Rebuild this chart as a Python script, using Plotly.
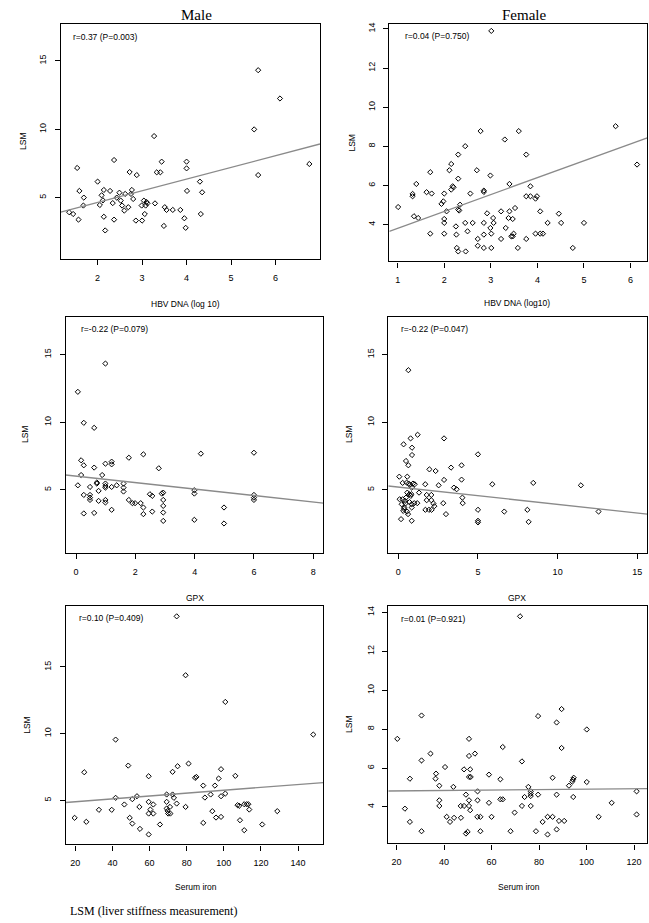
import plotly.graph_objects as go

# ---------------- data ----------------
male_hbv_x = [1.36,1.45,1.54,1.59,1.57,1.69,1.68,2.0,2.05,2.09,2.12,2.14,2.14,2.17,2.28,2.34,2.37,2.37,2.43,2.49,2.52,2.55,2.6,2.62,2.69,2.72,2.75,2.77,2.8,2.86,2.88,2.99,3.0,3.04,3.06,3.1,3.08,3.12,3.27,3.29,3.33,3.41,3.44,3.51,3.49,3.55,3.69,3.86,3.95,3.98,4.0,4.0,4.01,4.3,4.32,4.35,5.52,5.61,5.61,6.1,6.76]
male_hbv_y = [3.93,3.8,7.17,5.49,3.39,5.0,4.42,6.17,4.46,5.17,4.8,5.56,3.6,2.6,5.49,4.6,7.75,3.39,5.0,5.36,4.78,4.42,4.05,5.27,4.3,6.87,5.27,5.56,4.9,3.32,6.65,4.42,3.32,4.78,3.8,4.68,4.42,4.58,9.5,4.58,6.85,6.85,7.63,4.3,2.93,4.1,4.1,4.1,3.49,2.79,7.63,7.14,5.49,6.17,3.8,5.39,9.99,14.32,6.65,12.25,7.46]

female_hbv_x = [1.01,1.32,1.32,1.35,1.40,1.44,1.70,1.70,1.73,1.62,1.94,1.98,2.0,2.0,2.0,2.0,2.05,2.11,2.15,2.15,2.18,2.2,2.25,2.26,2.27,2.3,2.3,2.3,2.3,2.32,2.34,2.45,2.45,2.46,2.5,2.56,2.61,2.7,2.72,2.72,2.78,2.85,2.85,2.85,2.85,2.85,2.92,2.99,2.99,3.01,3.01,3.01,3.05,3.06,3.22,3.22,3.3,3.32,3.38,3.4,3.4,3.44,3.47,3.47,3.49,3.52,3.58,3.6,3.76,3.76,3.76,3.85,3.85,3.96,3.99,3.96,4.06,4.06,4.12,4.22,4.46,4.51,4.76,5.0,5.68,6.14]
female_hbv_y = [4.90,5.57,5.45,4.43,6.08,4.34,3.54,6.68,5.59,5.66,5.06,5.19,5.59,4.29,4.09,3.54,4.68,6.78,7.1,5.79,5.96,5.91,3.91,3.49,2.81,2.63,7.58,6.35,4.77,4.72,5.02,8.01,4.09,2.63,3.66,5.59,4.09,6.78,3.27,2.92,8.78,5.74,5.67,4.09,3.49,2.81,4.58,3.83,6.51,13.9,3.54,2.81,4.34,4.09,3.27,4.68,8.35,3.83,4.34,4.68,6.08,3.4,3.4,4.29,3.54,4.85,2.81,8.78,3.27,7.58,5.45,5.96,5.45,5.33,5.45,3.54,4.68,3.54,3.54,4.09,4.56,4.09,2.81,4.09,9.03,7.07]

male_gpx_x = [0.06,0.06,0.17,0.17,0.26,0.26,0.26,0.26,0.47,0.47,0.47,0.47,0.61,0.61,0.61,0.7,0.7,0.76,0.76,0.88,0.99,0.99,0.99,0.99,0.99,0.99,0.99,1.2,1.2,1.2,1.2,1.37,1.6,1.6,1.6,1.78,1.78,1.9,1.99,2.18,2.27,2.27,2.27,2.49,2.57,2.57,2.79,2.89,2.94,2.94,2.94,2.94,2.94,3.99,3.99,3.99,4.21,4.99,4.99,6.0,6.0,6.0,6.0]
male_gpx_y = [12.25,5.34,6.1,7.19,9.96,6.82,4.63,3.26,5.22,4.63,4.43,4.26,9.59,6.65,3.3,5.47,5.55,4.93,4.19,6.1,14.34,6.94,5.47,5.29,5.17,4.26,4.07,7.09,6.89,5.22,3.53,5.34,5.47,5.17,4.88,7.38,4.26,4.02,4.02,4.02,3.7,3.21,7.63,4.68,4.56,3.4,6.6,4.73,4.8,4.26,3.82,3.33,2.71,4.98,4.73,2.79,7.68,3.7,2.52,7.75,4.63,4.43,4.26]

female_gpx_x = [0.63,0.33,0.77,1.21,0.86,0.86,0.48,0.63,0.06,0.56,0.27,2.87,1.95,2.34,3.31,3.97,2.53,1.69,2.87,3.97,3.49,3.66,1.3,1.78,2.07,1.78,2.07,1.7,1.92,2.09,2.2,2.26,2.82,2.99,4.02,4.04,5.0,5.0,5.0,5.0,5.9,6.65,8.1,8.18,8.47,11.46,12.57,0.08,0.17,0.21,0.27,0.31,0.35,0.38,0.42,0.48,0.56,0.52,0.61,0.65,0.69,0.73,0.78,0.82,0.84,0.84,0.84,0.84,0.92,1.03,1.0,1.19,0.45,0.55,0.7]
female_gpx_y = [13.85,8.37,8.81,9.08,8.12,7.58,7.14,6.82,5.98,5.98,5.52,8.81,6.52,6.4,6.65,6.82,5.34,5.42,5.74,5.76,5.17,5.05,4.8,4.63,4.63,4.24,4.24,3.53,3.53,3.53,4.0,3.8,4.02,3.21,4.43,4.02,7.63,3.53,2.72,2.6,5.42,3.4,3.53,2.64,5.52,5.34,3.4,4.31,2.84,3.94,4.31,3.45,3.6,3.7,4.19,4.43,4.8,5.54,3.21,5.47,4.68,5.37,4.56,4.68,5.17,3.94,3.7,2.72,5.47,5.42,4.02,4.02,4.0,3.4,4.1]

male_iron_x = [19.6,24.8,25.9,32.7,39.6,41.7,41.7,46.4,48.5,49.3,50.7,50.7,53.2,54.5,54.8,59.5,59.5,59.5,59.5,60.4,62.0,62.0,65.6,69.2,69.2,69.2,69.7,70.0,71.2,71.0,72.4,72.4,73.1,74.6,74.6,75.1,79.4,79.4,81.0,84.5,85.2,88.9,88.9,89.8,92.9,93.8,95.2,95.8,97.2,98.5,98.5,98.5,100.8,100.8,106.2,107.4,108.3,108.7,111.0,111.0,112.3,113.2,113.7,120.7,128.8,148.2]
male_iron_y = [3.68,7.1,3.38,4.28,4.28,9.55,5.18,4.68,7.6,3.68,5.08,3.25,5.3,4.5,2.85,6.8,4.88,4.0,2.43,4.3,4.68,4.0,3.18,5.43,4.88,4.38,4.2,4.0,4.0,4.5,7.13,5.43,5.18,18.8,4.75,7.55,14.38,4.5,7.75,6.68,6.75,6.1,3.3,5.2,5.43,4.18,6.1,3.7,6.63,7.33,5.3,3.75,5.5,12.38,6.83,4.63,4.58,3.5,2.75,4.7,4.7,4.7,4.3,3.18,4.18,9.93]

female_iron_x = [20.3,23.5,25.6,25.6,30.5,30.5,30.5,34.3,36.6,36.4,38.0,38.0,38.0,40.4,41.1,42.5,43.9,44.2,47.0,48.4,47.1,48.4,49.2,49.2,49.9,50.5,50.5,50.5,50.5,50.5,51.2,51.0,51.0,53.0,54.1,54.1,54.0,55.3,55.3,58.9,58.9,60.0,63.7,63.7,64.7,64.7,68.0,69.7,72.0,72.8,72.8,73.9,75.5,76.5,76.5,76.5,76.5,78.7,79.6,79.6,81.5,83.6,83.6,85.7,85.7,87.4,87.4,87.4,88.4,89.5,89.5,90.6,92.6,94.0,94.3,94.6,94.4,100.1,100.1,105.1,110.6,121.1,121.1]
female_iron_y = [7.5,3.91,5.45,3.23,8.7,6.39,2.75,6.74,5.71,5.45,5.09,4.34,4.05,6.05,3.49,3.23,5.03,3.44,4.05,4.05,3.44,5.93,4.63,2.63,2.72,7.5,6.62,4.34,4.05,5.54,5.54,5.93,3.83,6.74,4.8,4.34,3.49,3.49,2.75,5.66,4.21,3.49,5.42,4.39,4.39,7.08,2.75,3.71,13.8,6.34,4.05,4.51,5.03,4.8,4.68,4.56,4.05,2.75,4.63,8.67,3.23,3.49,2.58,5.5,3.49,8.34,4.63,2.84,3.28,9.03,7.03,3.28,5.09,5.3,5.4,5.5,4.51,7.98,5.28,3.49,4.21,4.8,3.61]

# fitted regression lines (intercept, slope)
fit_intercepts = [2.93, 2.95, 6.02, 5.21, 4.67, 4.80]
fit_slopes = [0.856, 0.863, -0.239, -0.128, 0.0108, 0.0011]

stat_labels = ["r=0.37 (P=0.003)", "r=0.04 (P=0.750)", "r=-0.22 (P=0.079)",
               "r=-0.22 (P=0.047)", "r=0.10 (P=0.409)", "r=0.01 (P=0.921)"]
x_titles = ["HBV DNA (log 10)", "HBV DNA (log10)", "GPX", "GPX", "Serum iron", "Serum iron"]
col_titles = ["Male", "Female"]
y_title = "LSM"
footnote = "LSM (liver stiffness measurement)"

x_ticks = [[2, 3, 4, 5, 6], [1, 2, 3, 4, 5, 6], [0, 2, 4, 6, 8], [0, 5, 10, 15],
           [20, 40, 60, 80, 100, 120, 140], [20, 40, 60, 80, 100, 120]]
y_ticks = [[5, 10, 15], [4, 6, 8, 10, 12, 14], [5, 10, 15], [5, 10, 15],
           [5, 10, 15], [4, 6, 8, 10, 12, 14]]

series = [(male_hbv_x, male_hbv_y), (female_hbv_x, female_hbv_y),
          (male_gpx_x, male_gpx_y), (female_gpx_x, female_gpx_y),
          (male_iron_x, male_iron_y), (female_iron_x, female_iron_y)]

# ---------------- layout geometry (pixels) ----------------
W, H = 649, 923
x_ranges = [[1.17, 7.0], [0.82, 6.36], [-0.35, 8.34], [-0.63, 15.63], [14.8, 153.6], [16.5, 125.6]]
y_ranges = [[0.5, 17.68], [2.12, 14.24], [0.33, 17.78], [0.33, 17.78], [1.68, 19.6], [2.12, 14.31]]
boxes = [  # left, right, top, bottom in px
    (60.7, 320.0, 22.3, 257.7),
    (389.3, 647.3, 22.3, 260.0),
    (65.7, 323.3, 315.7, 552.3),
    (388.3, 647.3, 315.7, 552.3),
    (65.7, 323.3, 605.0, 844.3),
    (388.3, 647.3, 605.7, 843.3),
]
xtitle_pos = [(185, 303), (516.7, 302), (195, 597), (516.7, 597), (195.7, 887), (519, 887)]
ytitle_x = [22.3, 351.7, 25, 349, 26.7, 349]
stat_pos = [(71, 35), (402.7, 34), (78.7, 328), (399, 328), (77, 617), (399, 618)]
col_title_pos = [(196.7, 13.5), (524, 13.5)]

SANS = "Liberation Sans, Arial, sans-serif"
SERIF = "Liberation Serif, Times New Roman, serif"

fig = go.Figure()
annotations = []
layout = {}

for i in range(6):
    n = "" if i == 0 else str(i + 1)
    xa, ya = "x" + n, "y" + n
    xs, ys = series[i]
    fig.add_trace(go.Scatter(
        x=xs, y=ys, mode="markers", xaxis=xa, yaxis=ya, showlegend=False,
        marker=dict(symbol="diamond-open", size=4, color="black", line=dict(width=1, color="black")),
        hoverinfo="skip"))
    x0, x1 = x_ranges[i]
    b, m = fit_intercepts[i], fit_slopes[i]
    fig.add_trace(go.Scatter(
        x=[x0, x1], y=[b + m * x0, b + m * x1], mode="lines", xaxis=xa, yaxis=ya,
        showlegend=False, line=dict(color="#8a8a8a", width=1.3), hoverinfo="skip"))

    l, r, t, btm = boxes[i]
    layout["xaxis" + n] = dict(
        domain=[l / W, r / W], range=x_ranges[i], anchor=ya,
        tickmode="array", tickvals=x_ticks[i], ticks="outside", ticklen=5, tickwidth=1,
        tickcolor="black", showline=True, linecolor="black", linewidth=1.3, mirror=True,
        showgrid=False, zeroline=False, ticklabelstandoff=5,
        tickfont=dict(family=SANS, size=9, color="black"))
    layout["yaxis" + n] = dict(
        domain=[1 - btm / H, 1 - t / H], range=y_ranges[i], anchor=xa,
        tickmode="array", tickvals=y_ticks[i], ticks="outside", ticklen=5, tickwidth=1,
        tickcolor="black", showline=True, linecolor="black", linewidth=1.3, mirror=True,
        showgrid=False, zeroline=False, tickangle=-90, ticklabelstandoff=5,
        tickfont=dict(family=SANS, size=9, color="black"))

    tx, ty = xtitle_pos[i]
    annotations.append(dict(text=x_titles[i], x=tx / W, y=1 - ty / H, xref="paper", yref="paper",
                            showarrow=False, xanchor="center", yanchor="middle",
                            font=dict(family=SANS, size=8.5, color="black")))
    annotations.append(dict(text=y_title, x=ytitle_x[i] / W, y=1 - ((t + btm) / 2) / H,
                            xref="paper", yref="paper", showarrow=False, textangle=-90,
                            xanchor="center", yanchor="middle",
                            font=dict(family=SANS, size=8.5, color="black")))
    sx, sy = stat_pos[i]
    annotations.append(dict(text=stat_labels[i], x=sx / W, y=1 - sy / H, xref="paper", yref="paper",
                            showarrow=False, xanchor="left", yanchor="middle",
                            font=dict(family=SANS, size=8.5, color="black")))

for j in range(2):
    cx, cy = col_title_pos[j]
    annotations.append(dict(text=col_titles[j], x=cx / W, y=1 - cy / H, xref="paper", yref="paper",
                            showarrow=False, xanchor="center", yanchor="middle",
                            font=dict(family=SERIF, size=15, color="black")))

annotations.append(dict(text=footnote, x=68 / W, y=1 - 911 / H, xref="paper", yref="paper",
                        showarrow=False, xanchor="left", yanchor="middle",
                        font=dict(family=SERIF, size=12, color="black")))

fig.update_layout(
    width=W, height=H, margin=dict(l=0, r=0, t=0, b=0),
    paper_bgcolor="white", plot_bgcolor="white",
    annotations=annotations, **layout)

fig.write_html("out.html", config={"displayModeBar": False},
               post_script="document.body.style.margin='0';document.body.style.padding='0';"
                           "document.body.style.overflow='hidden';")
